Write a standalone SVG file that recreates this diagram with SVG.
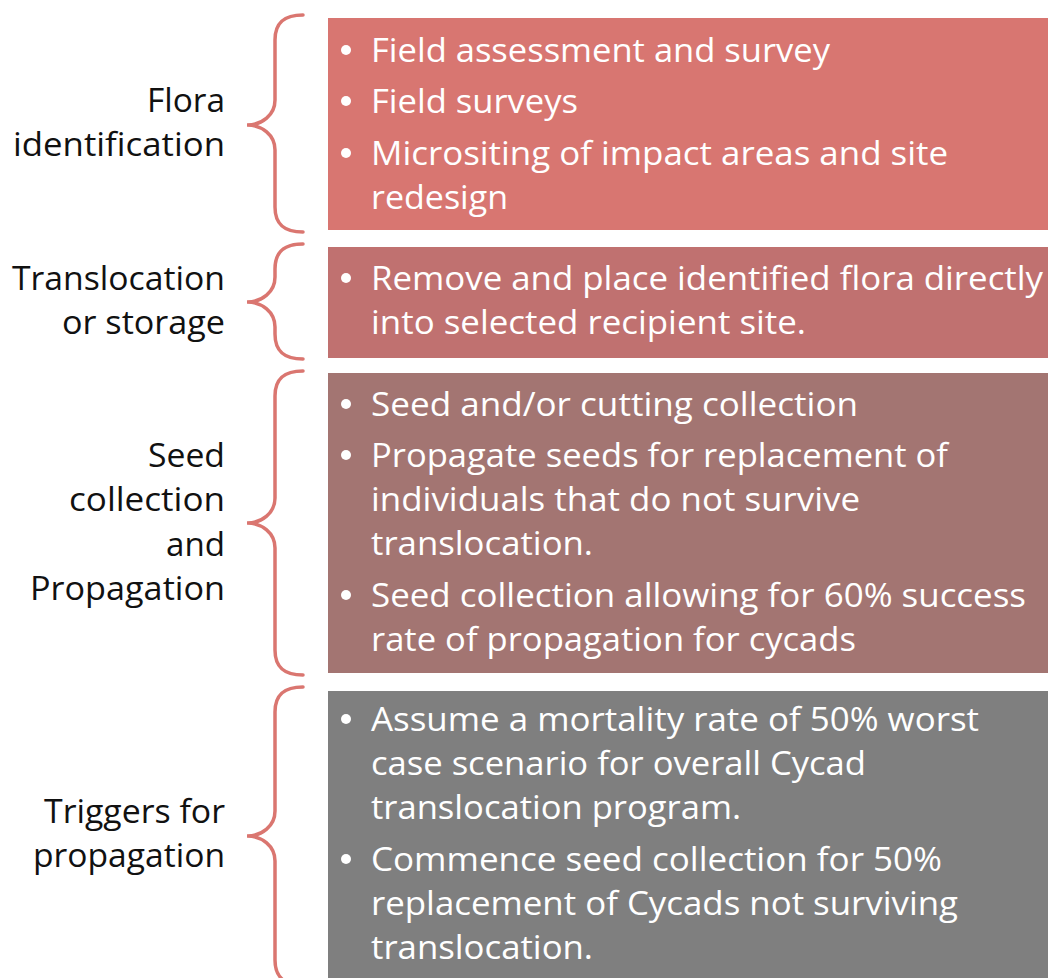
<svg xmlns="http://www.w3.org/2000/svg" width="1048" height="978" viewBox="0 0 1048 978">
<style>
.lbl{font-family:"Open Sans","Noto Sans",sans-serif;font-size:33px;fill:#111111;text-anchor:end}
.txt{font-family:"Open Sans","Noto Sans",sans-serif;font-size:33px;fill:#ffffff}
.brace{fill:none;stroke:#da7670;stroke-width:3.5;stroke-linecap:round}
.dot{fill:#ffffff}
</style>
<rect width="1048" height="978" fill="#ffffff"/>
<g id="connectors">
<path class="brace" d="M303,15 C285,15 275,22 275,40 V100 C275,115 262,125 247,125 C262,125 275,135 275,150 V207 C275,225 285,232 303,232"/>
<path class="brace" d="M303,244 C285,244 275,251 275,269 V277 C275,292 262,302 247,302 C262,302 275,312 275,327 V334 C275,352 285,359 303,359"/>
<path class="brace" d="M303,371 C285,371 275,378 275,396 V498 C275,513 262,523 247,523 C262,523 275,533 275,548 V650 C275,668 285,675 303,675"/>
<path class="brace" d="M303,687 C285,687 275,694 275,712 V811 C275,826 262,836 247,836 C262,836 275,846 275,861 V960 C275,978 285,985 303,985"/>
</g>
<g id="row1">
<text class="lbl" x="225" y="112" textLength="78" lengthAdjust="spacingAndGlyphs">Flora</text>
<text class="lbl" x="225" y="156" textLength="212" lengthAdjust="spacingAndGlyphs">identification</text>
<rect x="328" y="18" width="720" height="212" fill="#d87671"/>
<circle class="dot" cx="346" cy="50" r="5"/>
<text class="txt" x="371" y="62" textLength="459" lengthAdjust="spacingAndGlyphs">Field assessment and survey</text>
<circle class="dot" cx="346" cy="101" r="5"/>
<text class="txt" x="371" y="113" textLength="207" lengthAdjust="spacingAndGlyphs">Field surveys</text>
<circle class="dot" cx="346" cy="153" r="5"/>
<text class="txt" x="371" y="165" textLength="577" lengthAdjust="spacingAndGlyphs">Micrositing of impact areas and site</text>
<text class="txt" x="371" y="209" textLength="137" lengthAdjust="spacingAndGlyphs">redesign</text>
</g>
<g id="row2">
<text class="lbl" x="225" y="290" textLength="213" lengthAdjust="spacingAndGlyphs">Translocation</text>
<text class="lbl" x="225" y="334" textLength="163" lengthAdjust="spacingAndGlyphs">or storage</text>
<rect x="328" y="247" width="720" height="111" fill="#c07170"/>
<circle class="dot" cx="346" cy="278" r="5"/>
<text class="txt" x="371" y="290" textLength="672" lengthAdjust="spacingAndGlyphs">Remove and place identified flora directly</text>
<text class="txt" x="371" y="334" textLength="435" lengthAdjust="spacingAndGlyphs">into selected recipient site.</text>
</g>
<g id="row3">
<text class="lbl" x="225" y="467" textLength="77" lengthAdjust="spacingAndGlyphs">Seed</text>
<text class="lbl" x="225" y="511" textLength="156" lengthAdjust="spacingAndGlyphs">collection</text>
<text class="lbl" x="225" y="556" textLength="59" lengthAdjust="spacingAndGlyphs">and</text>
<text class="lbl" x="225" y="600" textLength="195" lengthAdjust="spacingAndGlyphs">Propagation</text>
<rect x="328" y="373" width="720" height="300" fill="#a37572"/>
<circle class="dot" cx="346" cy="404" r="5"/>
<text class="txt" x="371" y="416" textLength="487" lengthAdjust="spacingAndGlyphs">Seed and/or cutting collection</text>
<circle class="dot" cx="346" cy="455" r="5"/>
<text class="txt" x="371" y="467" textLength="577" lengthAdjust="spacingAndGlyphs">Propagate seeds for replacement of</text>
<text class="txt" x="371" y="511" textLength="489" lengthAdjust="spacingAndGlyphs">individuals that do not survive</text>
<text class="txt" x="371" y="555" textLength="222" lengthAdjust="spacingAndGlyphs">translocation.</text>
<circle class="dot" cx="346" cy="595" r="5"/>
<text class="txt" x="371" y="607" textLength="655" lengthAdjust="spacingAndGlyphs">Seed collection allowing for 60% success</text>
<text class="txt" x="371" y="651" textLength="485" lengthAdjust="spacingAndGlyphs">rate of propagation for cycads</text>
</g>
<g id="row4">
<text class="lbl" x="225" y="823" textLength="181" lengthAdjust="spacingAndGlyphs">Triggers for</text>
<text class="lbl" x="225" y="867" textLength="192" lengthAdjust="spacingAndGlyphs">propagation</text>
<rect x="328" y="691" width="720" height="287" fill="#7f7f7f"/>
<circle class="dot" cx="346" cy="719" r="5"/>
<text class="txt" x="371" y="731" textLength="608" lengthAdjust="spacingAndGlyphs">Assume a mortality rate of 50% worst</text>
<text class="txt" x="371" y="775" textLength="495" lengthAdjust="spacingAndGlyphs">case scenario for overall Cycad</text>
<text class="txt" x="371" y="819" textLength="370" lengthAdjust="spacingAndGlyphs">translocation program.</text>
<circle class="dot" cx="346" cy="859" r="5"/>
<text class="txt" x="371" y="871" textLength="571" lengthAdjust="spacingAndGlyphs">Commence seed collection for 50%</text>
<text class="txt" x="371" y="915" textLength="587" lengthAdjust="spacingAndGlyphs">replacement of Cycads not surviving</text>
<text class="txt" x="371" y="959" textLength="222" lengthAdjust="spacingAndGlyphs">translocation.</text>
</g>
</svg>
